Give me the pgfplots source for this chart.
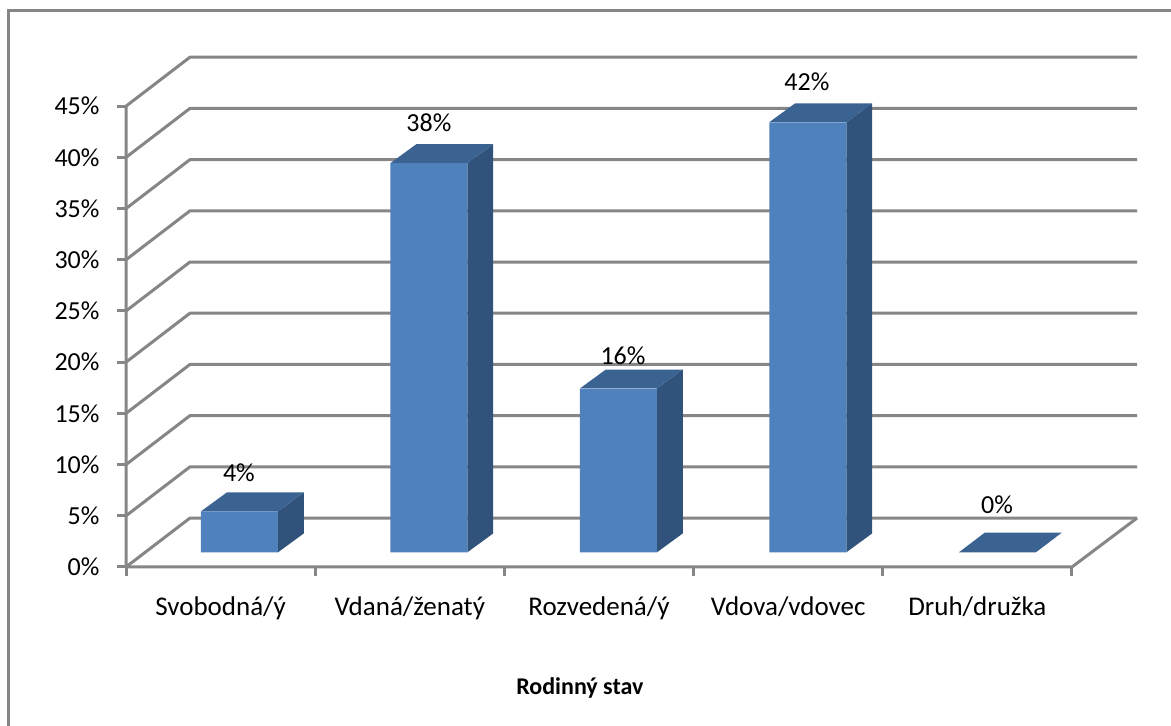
\documentclass[border=0pt]{standalone}
\usepackage{pgfplots}
\pgfplotsset{compat=1.18}
\usepackage{fontspec}
\setmainfont{Carlito}
\definecolor{gridgray}{HTML}{868686}
\definecolor{barfront}{HTML}{4F81BD}
\definecolor{bartop}{HTML}{3B6392}
\definecolor{barside}{HTML}{31527A}
\tikzset{
  wall/.style={gridgray,line width=3pt,line join=round},
  barsideface/.style={draw=none,fill=barside},
  bartopface/.style={draw=none,fill=bartop},
  val/.style={font=\fontsize{26}{30}\selectfont,black},
}
\begin{document}
\begin{tikzpicture}[x=1pt,y=1pt]
\path[use as bounding box] (0,0) rectangle (1171,726);
\fill[white] (0,0) rectangle (1171,726);
\draw[gridgray,line width=3pt] (8,0) -- (8,715) -- (1171,715);
\begin{axis}[
  at={(126pt,159pt)}, anchor=origin,
  scale only axis, width=1011pt, height=510pt,
  xmin=0, xmax=5.344, ymin=0, ymax=49.8,
  clip=false,
  axis line style={draw=none},
  xtick={0,1,2,3,4,5},
  xticklabels={Svobodná/ý,Vdaná/ženatý,Rozvedená/ý,Vdova/vdovec,Druh/družka},
  x tick label as interval,
  ytick={0,5,10,15,20,25,30,35,40,45},
  yticklabels={0\%,5\%,10\%,15\%,20\%,25\%,30\%,35\%,40\%,45\%},
  tick align=outside, tickpos=left,
  major tick length=9pt,
  tick style={gridgray,line width=3pt},
  yticklabel style={font=\fontsize{26}{30}\selectfont,black,xshift=-14pt},
  xticklabel style={font=\fontsize{27}{30}\selectfont,black,yshift=-17pt},
]
% Back wall and side wall rules
\addplot[wall] coordinates {(0,0) (0.338,4.78) (5.344,4.78)};
\addplot[wall] coordinates {(0,5) (0.338,9.78) (5.344,9.78)};
\addplot[wall] coordinates {(0,10) (0.338,14.78) (5.344,14.78)};
\addplot[wall] coordinates {(0,15) (0.338,19.78) (5.344,19.78)};
\addplot[wall] coordinates {(0,20) (0.338,24.78) (5.344,24.78)};
\addplot[wall] coordinates {(0,25) (0.338,29.78) (5.344,29.78)};
\addplot[wall] coordinates {(0,30) (0.338,34.78) (5.344,34.78)};
\addplot[wall] coordinates {(0,35) (0.338,39.78) (5.344,39.78)};
\addplot[wall] coordinates {(0,40) (0.338,44.78) (5.344,44.78)};
\addplot[wall] coordinates {(0,45) (0.338,49.78) (5.344,49.78)};
% Front axis frame and floor edge
\addplot[wall] coordinates {(0,45) (0,0) (5,0) (5.344,4.78)};
% Bar side faces (the base of each bar stands 1.43 units above the front edge)
\addplot[barsideface] coordinates {(0.803,1.43) (0.940,3.28) (0.940,7.28) (0.803,5.43)} -- cycle;
\addplot[barsideface] coordinates {(1.804,1.43) (1.941,3.28) (1.941,41.28) (1.804,39.43)} -- cycle;
\addplot[barsideface] coordinates {(2.806,1.43) (2.943,3.28) (2.943,19.28) (2.806,17.43)} -- cycle;
\addplot[barsideface] coordinates {(3.807,1.43) (3.944,3.28) (3.944,45.28) (3.807,43.43)} -- cycle;
% Bar top faces
\addplot[bartopface] coordinates {(0.396,5.43) (0.803,5.43) (0.940,7.28) (0.533,7.28)} -- cycle;
\addplot[bartopface] coordinates {(1.397,39.43) (1.804,39.43) (1.941,41.28) (1.534,41.28)} -- cycle;
\addplot[bartopface] coordinates {(2.399,17.43) (2.806,17.43) (2.943,19.28) (2.536,19.28)} -- cycle;
\addplot[bartopface] coordinates {(3.400,43.43) (3.807,43.43) (3.944,45.28) (3.537,45.28)} -- cycle;
\addplot[bartopface] coordinates {(4.402,1.43) (4.809,1.43) (4.946,3.35) (4.539,3.35)} -- cycle;
% Bar front faces
\addplot[ybar,bar width=77pt,bar shift=0pt,draw=none,fill=barfront,yshift=14.6pt]
  coordinates {(0.5995,4) (1.6005,38) (2.6025,16) (3.6035,42)};
% Value labels
\node[val] at (axis cs:0.597,9.18) {4\%};
\node[val] at (axis cs:1.601,43.36) {38\%};
\node[val] at (axis cs:2.627,20.6) {16\%};
\node[val] at (axis cs:3.599,47.36) {42\%};
\node[val] at (axis cs:4.604,6.05) {0\%};
% Category axis title
\node[font=\fontsize{24}{28}\selectfont\bfseries,black] at (axis cs:2.399,-11.8) {Rodinný stav};
\end{axis}
\end{tikzpicture}
\end{document}
